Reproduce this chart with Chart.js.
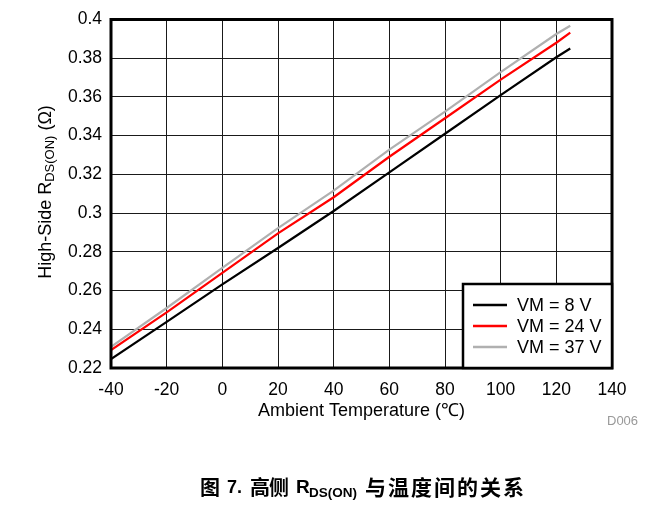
<!DOCTYPE html>
<html>
<head>
<meta charset="utf-8">
<script src="https://cdn.jsdelivr.net/npm/chart.js@4/dist/chart.umd.min.js"></script>
<style>
  html, body { margin: 0; padding: 0; background: #fff; }
  #wrap { width: 671px; height: 510px; position: relative; }
</style>
</head>
<body>
<div id="wrap"><canvas id="chartRds"></canvas></div>
<script>
// Datos
const temps = [-40, -20, 0, 20, 40, 60, 80, 100, 120, 125];
const rds8V = [0.2246, 0.2438, 0.2632, 0.2820, 0.3011, 0.3210, 0.3410, 0.3609, 0.3805, 0.3850];
const rds24V = [0.2292, 0.2487, 0.2691, 0.2895, 0.3082, 0.3291, 0.3490, 0.3689, 0.3880, 0.3932];
const rds37V = [0.2309, 0.2510, 0.2717, 0.2922, 0.3116, 0.3328, 0.3524, 0.3728, 0.3925, 0.3968];
const seriesLabels = ['VM = 8 V', 'VM = 24 V', 'VM = 37 V'];
const seriesColors = ['#000000', '#ff0000', '#b0b0b0'];
const xTicks = [-40, -20, 0, 20, 40, 60, 80, 100, 120, 140];

const fontFam = '"Liberation Sans", Arial, sans-serif';
const cjkFam = '"Noto Sans CJK SC", sans-serif';

function pts(ys) { return temps.map((t, i) => ({ x: t, y: ys[i] })); }

// texto con subíndice
function drawSub(ctx, parts, x, y) {
  let total = 0;
  parts.forEach(p => { ctx.font = p.font; total += ctx.measureText(p.t).width; });
  let cx = x - total / 2;
  ctx.textAlign = 'left';
  parts.forEach(p => {
    ctx.font = p.font;
    ctx.fillText(p.t, cx, y + (p.dy || 0));
    cx += ctx.measureText(p.t).width;
  });
}

// caracteres CJK con paso fijo
function drawCjk(ctx, str, x, y, step, size) {
  ctx.font = 'bold ' + size + 'px ' + cjkFam;
  ctx.textAlign = 'left';
  [...str].forEach((ch, i) => ctx.fillText(ch, x + i * step, y));
}

const decor = {
  id: 'decor',
  afterDraw(chart) {
    const ctx = chart.ctx;
    const a = chart.chartArea;
    ctx.save();
    // marco
    ctx.strokeStyle = '#000';
    ctx.lineWidth = 3;
    ctx.strokeRect(a.left, a.top, a.right - a.left, a.bottom - a.top);

    // leyenda
    const lx = 463, ly = 284, lw = a.right - 463, lh = a.bottom - 284;
    ctx.fillStyle = '#fff';
    ctx.fillRect(lx, ly, lw, lh);
    ctx.lineWidth = 2.5;
    ctx.strokeRect(lx, ly, lw, lh);
    ctx.textBaseline = 'middle';
    ctx.font = '18px ' + fontFam;
    chart.data.datasets.forEach((ds, i) => {
      const ry = 305 + i * 21;
      ctx.strokeStyle = ds.borderColor;
      ctx.lineWidth = 2.5;
      ctx.beginPath();
      ctx.moveTo(473, ry);
      ctx.lineTo(507, ry);
      ctx.stroke();
      ctx.fillStyle = '#000';
      ctx.textAlign = 'left';
      ctx.fillText(ds.label, 517, ry + 1);
    });

    // título eje X
    ctx.fillStyle = '#000';
    ctx.textAlign = 'center';
    ctx.font = '18px ' + fontFam;
    ctx.fillText('Ambient Temperature (℃)', (a.left + a.right) / 2, 411);

    // título eje Y
    ctx.save();
    ctx.translate(46, 192);
    ctx.rotate(-Math.PI / 2);
    drawSub(ctx, [
      { t: 'High-Side R', font: '18px ' + fontFam },
      { t: 'DS(ON)', font: '13px ' + fontFam, dy: 4 },
      { t: ' (Ω)', font: '18px ' + fontFam }
    ], 0, 0);
    ctx.restore();

    // D006
    ctx.fillStyle = '#999';
    ctx.font = '13px ' + fontFam;
    ctx.textAlign = 'left';
    ctx.fillText('D006', 607, 421);

    // pie de figura
    ctx.fillStyle = '#000';
    const cy = 487;
    drawCjk(ctx, '图', 200, cy, 23, 20);
    ctx.font = 'bold 18px ' + fontFam;
    ctx.fillText('7.', 227, cy + 1);
    drawCjk(ctx, '高侧', 250, cy, 19, 20);
    ctx.font = 'bold 19px ' + fontFam;
    ctx.fillText('R', 296, cy + 1);
    ctx.font = 'bold 13.5px ' + fontFam;
    ctx.fillText('DS(ON)', 309, cy + 6);
    drawCjk(ctx, '与温度间的关系', 365, cy, 23, 21);
    ctx.restore();
  }
};

const datasets = [rds8V, rds24V, rds37V].map((ys, i) => ({
  label: seriesLabels[i],
  data: pts(ys),
  borderColor: seriesColors[i],
  backgroundColor: seriesColors[i],
  borderWidth: 2.2,
  pointRadius: 0,
  tension: 0
}));

new Chart(document.getElementById('chartRds'), {
  type: 'line',
  data: { datasets: datasets },
  plugins: [decor],
  options: {
    responsive: true,
    maintainAspectRatio: false,
    animation: false,
    layout: { padding: { left: 0, top: 15, right: 59, bottom: 0 } },
    plugins: { legend: { display: false }, tooltip: { enabled: false } },
    scales: {
      x: {
        type: 'linear',
        min: -40, max: 140,
        afterBuildTicks: s => { s.ticks = xTicks.map(v => ({ value: v })); },
        afterFit: s => { s.height = 142; },
        grid: { color: '#1a1a1a', lineWidth: 1, drawTicks: false },
        border: { display: false },
        ticks: { padding: 12, color: '#000', font: { family: fontFam, size: 17.5 }, maxRotation: 0 }
      },
      y: {
        min: 0.22, max: 0.4,
        afterFit: s => { s.width = 111; },
        grid: { color: '#1a1a1a', lineWidth: 1, drawTicks: false },
        border: { display: false },
        ticks: {
          stepSize: 0.02, padding: 9, color: '#000',
          font: { family: fontFam, size: 17.5 },
          callback: v => String(+v.toFixed(2))
        }
      }
    }
  }
});
</script>
</body>
</html>
